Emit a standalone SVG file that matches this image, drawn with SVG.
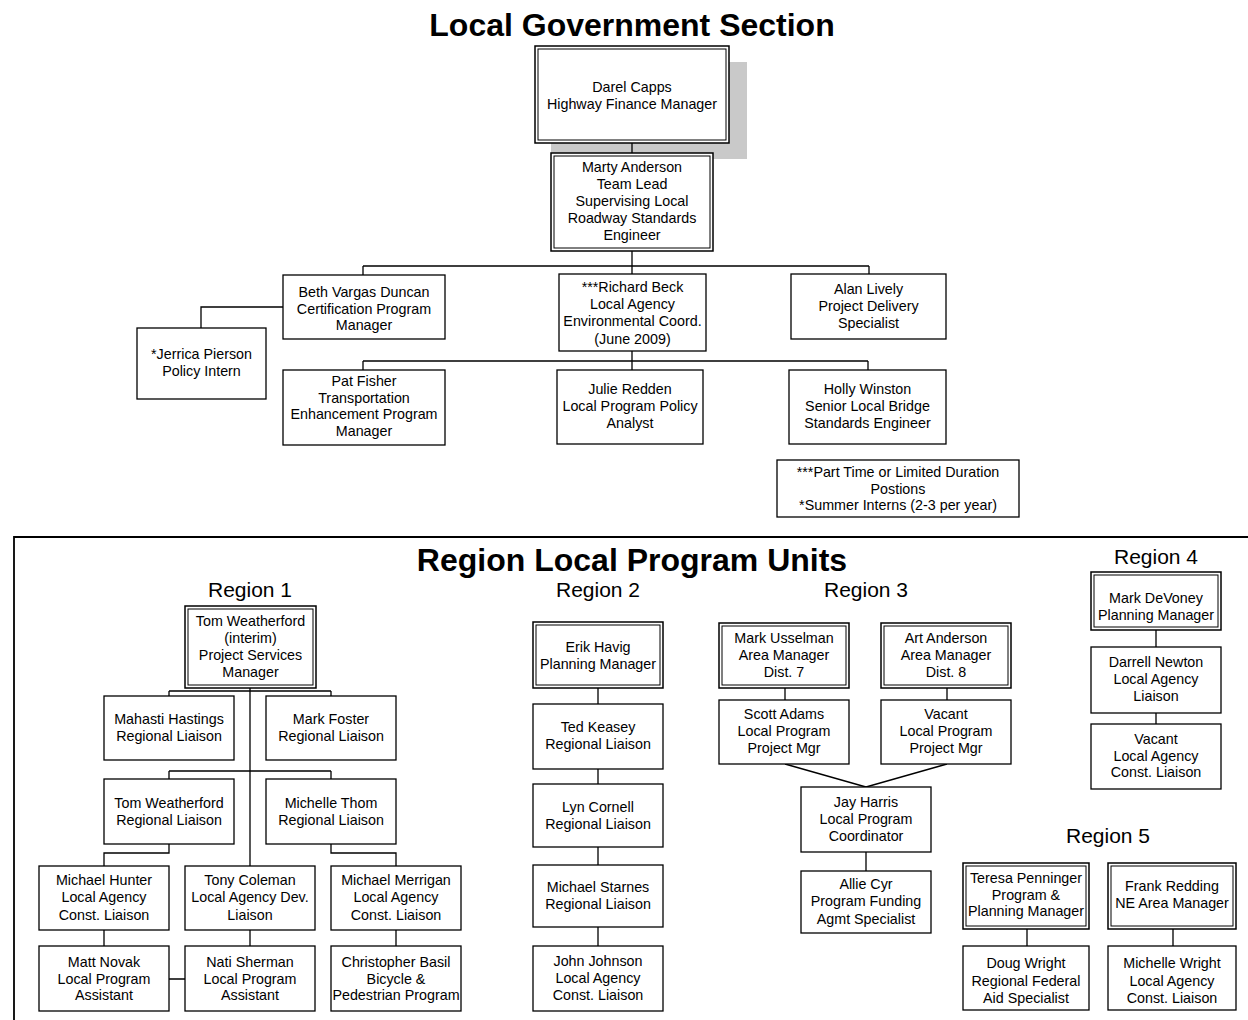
<svg xmlns="http://www.w3.org/2000/svg" width="1248" height="1020" viewBox="0 0 1248 1020">
<style>
.b{fill:#fff;stroke:#000;stroke-width:1.3}
.o{fill:#fff;stroke:#000;stroke-width:1.5}
.i{fill:none;stroke:#000;stroke-width:1}
.t{font-family:"Liberation Sans",Arial,sans-serif;font-size:14.3px;text-anchor:middle;fill:#000}
.h{font-family:"Liberation Sans",Arial,sans-serif;font-size:32px;font-weight:bold;text-anchor:middle;fill:#000}
.r{font-family:"Liberation Sans",Arial,sans-serif;font-size:21px;text-anchor:middle;fill:#000}
.c{fill:none;stroke:#000;stroke-width:1.3}
</style>
<rect width="1248" height="1020" fill="#fff"/>
<text class="h" x="632" y="36">Local Government Section</text>
<path d="M14,1022 V537 H1250" fill="none" stroke="#000" stroke-width="1.8"/>
<text class="h" x="632" y="571">Region Local Program Units</text>
<text class="r" x="250" y="597">Region 1</text>
<text class="r" x="598" y="597">Region 2</text>
<text class="r" x="866" y="597">Region 3</text>
<text class="r" x="1156" y="564">Region 4</text>
<text class="r" x="1108" y="843">Region 5</text>
<rect x="551" y="62" width="196" height="97" fill="#c9c9c9"/>
<g id="connectors">
<path class="c" d="M632,143 V153 M632,251 V274 M632,351 V370 M363,266 H869 M363,266 V275 M869,266 V274 M363,361 H868 M363,361 V370 M868,361 V370 M283,307 H201 V328 M688,337 V351"/>
<path class="c" d="M250,688 V866 M169,691 H331 M169,691 V696 M331,691 V696 M169,771 H331 M169,771 V779 M331,771 V779 M169,844 V853 H104 V866 M331,844 V853 H396 V866 M104,930 V946 M250,930 V946 M396,930 V946 M169,979 H185"/>
<path class="c" d="M598,688 V704 M598,769 V784 M598,847 V865 M598,927 V946"/>
<path class="c" d="M785,688 V700 M947,688 V700 M785,764 L866,787 M947,764 L866,787 M866,852 V871"/>
<path class="c" d="M1156,630 V647 M1156,713 V724 M1027,929 V946 M1173,929 V946"/>
</g>
<g id="darel"><rect class="o" x="535" y="46" width="194" height="97"/><rect class="i" x="538" y="49" width="188" height="91"/><text class="t" x="632" y="92">Darel Capps<tspan x="632" dy="16.8">Highway Finance Manager</tspan></text></g>
<g id="marty"><rect class="o" x="551" y="153" width="162" height="98"/><rect class="i" x="554" y="156" width="156" height="92"/><text class="t" x="632" y="172">Marty Anderson<tspan x="632" dy="17">Team Lead</tspan><tspan x="632" dy="17">Supervising Local</tspan><tspan x="632" dy="17">Roadway Standards</tspan><tspan x="632" dy="17">Engineer</tspan></text></g>
<g id="beth"><rect class="b" x="283" y="275" width="162" height="64"/><text class="t" x="364" y="297">Beth Vargas Duncan<tspan x="364" dy="16.6">Certification Program</tspan><tspan x="364" dy="16.6">Manager</tspan></text></g>
<g id="richard"><rect class="b" x="559" y="274" width="147" height="77"/><text class="t" x="632.5" y="292">***Richard Beck<tspan x="632.5" dy="17.2">Local Agency</tspan><tspan x="632.5" dy="17.2">Environmental Coord.</tspan><tspan x="632.5" dy="17.2">(June 2009)</tspan></text></g>
<g id="alan"><rect class="b" x="791" y="274" width="155" height="65"/><text class="t" x="868.5" y="294">Alan Lively<tspan x="868.5" dy="17">Project Delivery</tspan><tspan x="868.5" dy="17">Specialist</tspan></text></g>
<g id="jerrica"><rect class="b" x="137" y="328" width="129" height="71"/><text class="t" x="201.5" y="359">*Jerrica Pierson<tspan x="201.5" dy="17">Policy Intern</tspan></text></g>
<g id="pat"><rect class="b" x="283" y="370" width="162" height="75"/><text class="t" x="364" y="386">Pat Fisher<tspan x="364" dy="16.6">Transportation</tspan><tspan x="364" dy="16.6">Enhancement Program</tspan><tspan x="364" dy="16.6">Manager</tspan></text></g>
<g id="julie"><rect class="b" x="557" y="370" width="146" height="74"/><text class="t" x="630" y="394">Julie Redden<tspan x="630" dy="17">Local Program Policy</tspan><tspan x="630" dy="17">Analyst</tspan></text></g>
<g id="holly"><rect class="b" x="789" y="370" width="157" height="74"/><text class="t" x="867.5" y="394">Holly Winston<tspan x="867.5" dy="17">Senior Local Bridge</tspan><tspan x="867.5" dy="17">Standards Engineer</tspan></text></g>
<g id="note"><rect class="b" x="777" y="460" width="242" height="57"/><text class="t" x="898" y="477">***Part Time or Limited Duration<tspan x="898" dy="16.6">Postions</tspan><tspan x="898" dy="16.6">*Summer Interns (2-3 per year)</tspan></text></g>
<g id="r1-tom"><rect class="o" x="185" y="606" width="131" height="82"/><rect class="i" x="188" y="609" width="125" height="76"/><text class="t" x="250.5" y="626">Tom Weatherford<tspan x="250.5" dy="17">(interim)</tspan><tspan x="250.5" dy="17">Project Services</tspan><tspan x="250.5" dy="17">Manager</tspan></text></g>
<g id="r1-mahasti"><rect class="b" x="104" y="696" width="130" height="64"/><text class="t" x="169" y="724">Mahasti Hastings<tspan x="169" dy="17">Regional Liaison</tspan></text></g>
<g id="r1-foster"><rect class="b" x="266" y="696" width="130" height="64"/><text class="t" x="331" y="724">Mark Foster<tspan x="331" dy="17">Regional Liaison</tspan></text></g>
<g id="r1-tomrl"><rect class="b" x="104" y="779" width="130" height="65"/><text class="t" x="169" y="808">Tom Weatherford<tspan x="169" dy="17">Regional Liaison</tspan></text></g>
<g id="r1-thom"><rect class="b" x="266" y="779" width="130" height="65"/><text class="t" x="331" y="808">Michelle Thom<tspan x="331" dy="17">Regional Liaison</tspan></text></g>
<g id="r1-hunter"><rect class="b" x="39" y="866" width="130" height="64"/><text class="t" x="104" y="885">Michael Hunter<tspan x="104" dy="17.4">Local Agency</tspan><tspan x="104" dy="17.4">Const. Liaison</tspan></text></g>
<g id="r1-coleman"><rect class="b" x="185" y="866" width="130" height="64"/><text class="t" x="250" y="885">Tony Coleman<tspan x="250" dy="17.4">Local Agency Dev.</tspan><tspan x="250" dy="17.4">Liaison</tspan></text></g>
<g id="r1-merrigan"><rect class="b" x="331" y="866" width="130" height="64"/><text class="t" x="396" y="885">Michael Merrigan<tspan x="396" dy="17.4">Local Agency</tspan><tspan x="396" dy="17.4">Const. Liaison</tspan></text></g>
<g id="r1-novak"><rect class="b" x="39" y="946" width="130" height="65"/><text class="t" x="104" y="967">Matt Novak<tspan x="104" dy="16.6">Local Program</tspan><tspan x="104" dy="16.6">Assistant</tspan></text></g>
<g id="r1-sherman"><rect class="b" x="185" y="946" width="130" height="65"/><text class="t" x="250" y="967">Nati Sherman<tspan x="250" dy="16.6">Local Program</tspan><tspan x="250" dy="16.6">Assistant</tspan></text></g>
<g id="r1-basil"><rect class="b" x="331" y="946" width="130" height="65"/><text class="t" x="396" y="967">Christopher Basil<tspan x="396" dy="16.6">Bicycle &amp;</tspan><tspan x="396" dy="16.6">Pedestrian Program</tspan></text></g>
<g id="r2-havig"><rect class="o" x="533" y="622" width="130" height="66"/><rect class="i" x="536" y="625" width="124" height="60"/><text class="t" x="598" y="652">Erik Havig<tspan x="598" dy="16.6">Planning Manager</tspan></text></g>
<g id="r2-keasey"><rect class="b" x="533" y="704" width="130" height="65"/><text class="t" x="598" y="732">Ted Keasey<tspan x="598" dy="16.6">Regional Liaison</tspan></text></g>
<g id="r2-cornell"><rect class="b" x="533" y="784" width="130" height="63"/><text class="t" x="598" y="812">Lyn Cornell<tspan x="598" dy="16.6">Regional Liaison</tspan></text></g>
<g id="r2-starnes"><rect class="b" x="533" y="865" width="130" height="62"/><text class="t" x="598" y="892">Michael Starnes<tspan x="598" dy="16.6">Regional Liaison</tspan></text></g>
<g id="r2-johnson"><rect class="b" x="533" y="946" width="130" height="65"/><text class="t" x="598" y="966">John Johnson<tspan x="598" dy="17">Local Agency</tspan><tspan x="598" dy="17">Const. Liaison</tspan></text></g>
<g id="r3-usselman"><rect class="o" x="719" y="623" width="130" height="65"/><rect class="i" x="722" y="626" width="124" height="59"/><text class="t" x="784" y="643">Mark Usselman<tspan x="784" dy="17">Area Manager</tspan><tspan x="784" dy="17">Dist. 7</tspan></text></g>
<g id="r3-anderson"><rect class="o" x="881" y="623" width="130" height="65"/><rect class="i" x="884" y="626" width="124" height="59"/><text class="t" x="946" y="643">Art Anderson<tspan x="946" dy="17">Area Manager</tspan><tspan x="946" dy="17">Dist. 8</tspan></text></g>
<g id="r3-adams"><rect class="b" x="719" y="700" width="130" height="64"/><text class="t" x="784" y="719">Scott Adams<tspan x="784" dy="17">Local Program</tspan><tspan x="784" dy="17">Project Mgr</tspan></text></g>
<g id="r3-vacant"><rect class="b" x="881" y="700" width="130" height="64"/><text class="t" x="946" y="719">Vacant<tspan x="946" dy="17">Local Program</tspan><tspan x="946" dy="17">Project Mgr</tspan></text></g>
<g id="r3-harris"><rect class="b" x="801" y="787" width="130" height="65"/><text class="t" x="866" y="807">Jay Harris<tspan x="866" dy="17">Local Program</tspan><tspan x="866" dy="17">Coordinator</tspan></text></g>
<g id="r3-cyr"><rect class="b" x="801" y="871" width="130" height="62"/><text class="t" x="866" y="889">Allie Cyr<tspan x="866" dy="17.4">Program Funding</tspan><tspan x="866" dy="17.4">Agmt Specialist</tspan></text></g>
<g id="r4-devoney"><rect class="o" x="1091" y="572" width="130" height="58"/><rect class="i" x="1094" y="575" width="124" height="52"/><text class="t" x="1156" y="603">Mark DeVoney<tspan x="1156" dy="17">Planning Manager</tspan></text></g>
<g id="r4-newton"><rect class="b" x="1091" y="647" width="130" height="66"/><text class="t" x="1156" y="667">Darrell Newton<tspan x="1156" dy="17">Local Agency</tspan><tspan x="1156" dy="17">Liaison</tspan></text></g>
<g id="r4-vacant"><rect class="b" x="1091" y="724" width="130" height="65"/><text class="t" x="1156" y="744">Vacant<tspan x="1156" dy="16.6">Local Agency</tspan><tspan x="1156" dy="16.6">Const. Liaison</tspan></text></g>
<g id="r5-penninger"><rect class="o" x="963" y="863" width="126" height="66"/><rect class="i" x="966" y="866" width="120" height="60"/><text class="t" x="1026" y="883">Teresa Penninger<tspan x="1026" dy="16.6">Program &amp;</tspan><tspan x="1026" dy="16.6">Planning Manager</tspan></text></g>
<g id="r5-redding"><rect class="o" x="1108" y="863" width="128" height="66"/><rect class="i" x="1111" y="866" width="122" height="60"/><text class="t" x="1172" y="891">Frank Redding<tspan x="1172" dy="17">NE Area Manager</tspan></text></g>
<g id="r5-doug"><rect class="b" x="963" y="946" width="126" height="64"/><text class="t" x="1026" y="968">Doug Wright<tspan x="1026" dy="17.5">Regional Federal</tspan><tspan x="1026" dy="17.5">Aid Specialist</tspan></text></g>
<g id="r5-michelle"><rect class="b" x="1108" y="946" width="128" height="64"/><text class="t" x="1172" y="968">Michelle Wright<tspan x="1172" dy="17.5">Local Agency</tspan><tspan x="1172" dy="17.5">Const. Liaison</tspan></text></g>
</svg>
